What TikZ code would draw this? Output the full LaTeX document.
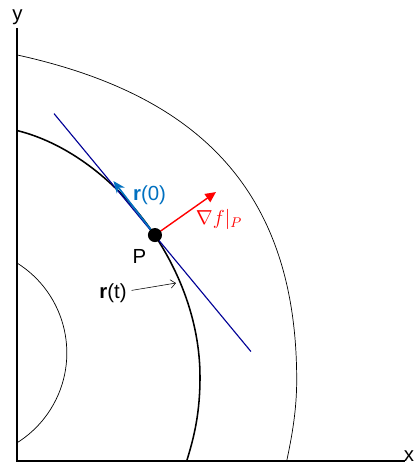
\documentclass[tikz,border=0pt]{standalone}
\usepackage{fontspec}
\setmainfont{Liberation Sans}
\usepackage{xcolor}
\usepackage{tikz}
\usetikzlibrary{arrows.meta}

\definecolor{tanblue}{RGB}{0,0,150}
\definecolor{velblue}{RGB}{0,112,192}

\begin{document}
\begin{tikzpicture}[
    scale=0.025,
    font=\fontsize{14.5}{17}\selectfont,
    axisline/.style={
        line width=1.1pt
    },
    levelset/.style={
        line width=0.5pt
    },
    orbit/.style={
        line width=1.1pt
    },
    tangent/.style={
        draw=tanblue,
        line width=0.8pt
    },
    velocity/.style={
        draw=velblue,
        line width=1.2pt,
        -{Stealth[length=8.5pt, width=7pt]}
    },
    gradient/.style={
        draw=red,
        line width=1pt,
        -{Triangle[length=7.5pt, width=7pt]}
    },
    pointer/.style={
        line width=0.4pt,
        -{Straight Barb[length=3.5pt, width=6pt]}
    },
    dot/.style={
        circle,
        fill=black,
        inner sep=0pt,
        minimum size=10pt
    }
]
\useasboundingbox (0,0) rectangle (420,464);

% Axes
\draw[axisline] (17,436) -- (17,3) -- (405,3);
\node[anchor=base] (ylab) at (17.5,443) {y};
\node[anchor=base] (xlab) at (409,3) {x};

% Level curves of f
\draw[levelset] (17,201) arc[start angle=58, end angle=-58, radius=106];
\draw[levelset] (17.3,409) .. controls (192.3,370.5) and (296.7,279) .. (296.7,84)
    .. controls (296.7,54) and (292,28) .. (286.7,3);

% Curve r(t) through P
\draw[orbit] (17.7,333.3) .. controls (109.7,310.3) and (200,202) .. (200,87)
    .. controls (200,52) and (194.5,28) .. (186.7,3);

% Tangent line and vectors at P
\coordinate (p) at (155,229);
\coordinate (tanA) at (54,350.5);
\coordinate (tanB) at (251,112.5);
\coordinate (veltip) at (113.5,283);
\coordinate (gradtip) at (216,272);
\draw[tangent] (tanA) -- (tanB);
\draw[velocity] (p) -- (veltip);
\draw[gradient] (p) -- (gradtip);
\node[dot] (pdot) at (p) {};

% Labels
\node[anchor=base] (plab) at (139.5,200) {P};
\node[anchor=base, text=velblue] (vlab) at (149.5,263.3) {\textbf{r}(0)};
\node[text=red] (glab) at (219,245) {$\nabla f|_P$};
\node[anchor=base] (rt) at (113,165.3) {\textbf{r}(t)};
\coordinate (rtend) at (176,181);
\draw[pointer] (rt) -- (rtend);
\end{tikzpicture}
\end{document}
